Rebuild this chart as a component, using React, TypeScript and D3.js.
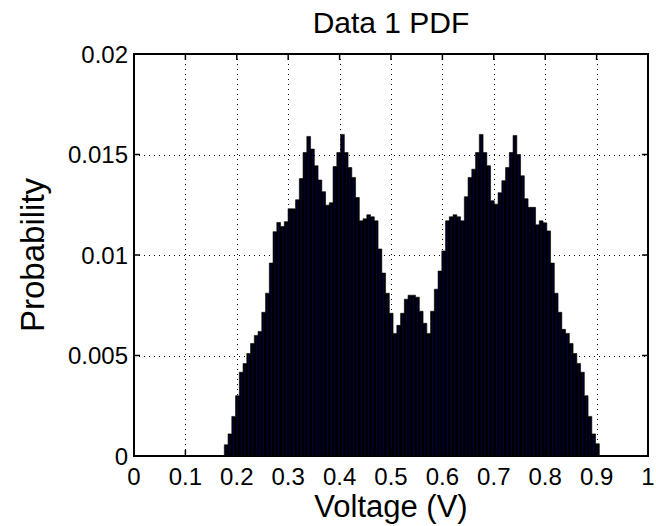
import React from 'react';
import * as d3 from 'd3';

const WIDTH = 656;
const HEIGHT = 526;

// Histogram of the sampled voltages: 100 equal-width bins between the sample min and max.
const binLow = 0.1757;
const binHigh = 0.9053;
const probability = [
  0.00056, 0.0011, 0.00197, 0.003, 0.00417, 0.0046, 0.0051, 0.0056, 0.006, 0.0062,
  0.00715, 0.0081, 0.0096, 0.01116, 0.01162, 0.01142, 0.01166, 0.0123, 0.0123, 0.01275,
  0.0138, 0.0151, 0.0159, 0.01527, 0.01444, 0.01373, 0.01315, 0.01248, 0.0126, 0.0144,
  0.0151, 0.016, 0.0151, 0.01435, 0.01386, 0.01286, 0.0117, 0.0118, 0.012, 0.0119,
  0.0117, 0.0103, 0.0091, 0.0081, 0.0071, 0.0061, 0.0065, 0.0071, 0.0078, 0.008,
  0.008, 0.0079, 0.0072, 0.0066, 0.0061, 0.0072, 0.0083, 0.0092, 0.0102, 0.0117,
  0.0119, 0.012, 0.0119, 0.0117, 0.0129, 0.01386, 0.01427, 0.0151, 0.016, 0.0151,
  0.01444, 0.0127, 0.01253, 0.0131, 0.0137, 0.01435, 0.0151, 0.01595, 0.015, 0.01394,
  0.0128, 0.01237, 0.01237, 0.0115, 0.0117, 0.0116, 0.0112, 0.0096, 0.0081, 0.00715,
  0.0063, 0.0061, 0.0056, 0.0051, 0.0046, 0.00417, 0.003, 0.00197, 0.0011, 0.00061,
];

const xTickValues = [0, 0.1, 0.2, 0.3, 0.4, 0.5, 0.6, 0.7, 0.8, 0.9, 1];
const xTickLabels = ['0', '0.1', '0.2', '0.3', '0.4', '0.5', '0.6', '0.7', '0.8', '0.9', '1'];
const yTickValues = [0, 0.005, 0.01, 0.015, 0.02];
const yTickLabels = ['0', '0.005', '0.01', '0.015', '0.02'];

const titleText = 'Data 1 PDF';
const xLabelText = 'Voltage (V)';
const yLabelText = 'Probability';

const FONT = '"Liberation Sans", Arial, Helvetica, sans-serif';
const FACE = '#00008f';
const EDGE = '#000000';

export default function App() {
  const left = 134;
  const right = 648;
  const top = 54;
  const bottom = 456;
  const tickLen = 6;
  const edgeW = 1.65;

  const x = d3.scaleLinear().domain([0, 1]).range([left, right]);
  const y = d3.scaleLinear().domain([0, 0.02]).range([bottom, top]);

  const binWidth = (binHigh - binLow) / probability.length;
  const bins = probability.map((p, i) => ({
    x0: binLow + i * binWidth,
    x1: binLow + (i + 1) * binWidth,
    p,
  }));

  // outline of all bars as one stepped shape, so neighbouring edges leave no seams
  const outline = d3.path();
  outline.moveTo(x(bins[0].x0), y(0));
  bins.forEach((b) => {
    outline.lineTo(x(b.x0), y(b.p));
    outline.lineTo(x(b.x1), y(b.p));
  });
  outline.lineTo(x(bins[bins.length - 1].x1), y(0));
  outline.closePath();

  const cx = (left + right) / 2;
  const cy = (top + bottom) / 2;

  return (
    <svg
      width={WIDTH}
      height={HEIGHT}
      viewBox={`0 0 ${WIDTH} ${HEIGHT}`}
      style={{ position: 'absolute', left: 0, top: 0, background: '#fff' }}
      fontFamily={FONT}
    >
      <rect x={0} y={0} width={WIDTH} height={HEIGHT} fill="#fff" />

      {/* dotted grid */}
      <g stroke="#000" strokeWidth={1} strokeDasharray="1,4">
        {xTickValues.slice(1, -1).map((v) => (
          <line key={`gx${v}`} x1={Math.round(x(v)) + 0.5} x2={Math.round(x(v)) + 0.5} y1={top} y2={bottom} />
        ))}
        {yTickValues.slice(1, -1).map((v) => (
          <line key={`gy${v}`} x1={left} x2={right} y1={Math.round(y(v)) + 0.5} y2={Math.round(y(v)) + 0.5} />
        ))}
      </g>

      {/* histogram bars: black edges with a narrow navy face inside each bin */}
      <path d={outline.toString()} fill={EDGE} stroke={EDGE} strokeWidth={0.6} />
      <g>
        {bins.map((b, i) => {
          const bx0 = x(b.x0);
          const bx1 = x(b.x1);
          const by = y(b.p);
          const h = y(0) - by;
          return (
            <rect
              key={`face${i}`}
              x={bx0 + edgeW}
              y={by + edgeW}
              width={Math.max(0, bx1 - bx0 - 2 * edgeW)}
              height={Math.max(0, h - edgeW)}
              fill={FACE}
            />
          );
        })}
      </g>

      {/* ticks pointing inward on all four sides */}
      <g stroke="#000" strokeWidth={1.5}>
        {xTickValues.map((v) => (
          <g key={`tx${v}`}>
            <line x1={x(v)} x2={x(v)} y1={bottom} y2={bottom - tickLen} />
            <line x1={x(v)} x2={x(v)} y1={top} y2={top + tickLen} />
          </g>
        ))}
        {yTickValues.map((v) => (
          <g key={`ty${v}`}>
            <line x1={left} x2={left + tickLen} y1={y(v)} y2={y(v)} />
            <line x1={right} x2={right - tickLen} y1={y(v)} y2={y(v)} />
          </g>
        ))}
      </g>

      {/* axes box */}
      <rect x={left} y={top} width={right - left} height={bottom - top} fill="none" stroke="#000" strokeWidth={2} />

      {/* tick labels */}
      <g fontSize={24} fill="#000">
        {xTickValues.map((v, i) => (
          <text key={`lx${v}`} x={x(v)} y={485} textAnchor="middle">
            {xTickLabels[i]}
          </text>
        ))}
        {yTickValues.map((v, i) => (
          <text key={`ly${v}`} x={128} y={y(v) + 8.5} textAnchor="end">
            {yTickLabels[i]}
          </text>
        ))}
      </g>

      <text x={cx} y={33} textAnchor="middle" fontSize={30} fill="#000">
        {titleText}
      </text>
      <text x={cx} y={517} textAnchor="middle" fontSize={31} fill="#000">
        {xLabelText}
      </text>
      <text
        transform={`translate(44, ${cy}) rotate(-90)`}
        textAnchor="middle"
        fontSize={33}
        fill="#000"
      >
        {yLabelText}
      </text>
    </svg>
  );
}
